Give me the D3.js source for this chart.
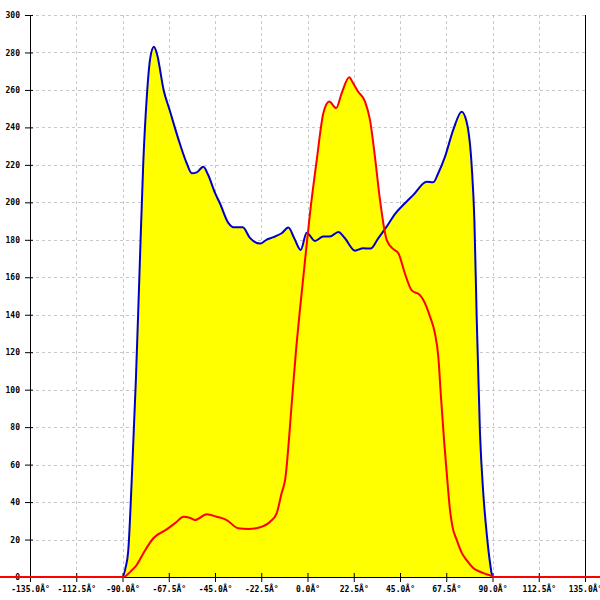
<!DOCTYPE html>
<html><head><meta charset="utf-8">
<script src="https://cdn.jsdelivr.net/npm/d3@7"></script>
<style>html,body{margin:0;padding:0;background:#fff;} svg{display:block;}</style>
</head><body>
<svg id="chart" width="600" height="600"></svg>
<script>
// Data
const blueX = [-150, -90, -88.5, -87.2, -85.5, -83.5, -81.8, -79.9, -78.2, -76.5, -74.7, -73.2, -70, -67, -62, -58.8, -56.3, -53.9, -50.7, -48.3, -45, -42.6, -38.5, -36, -31.5, -28, -23, -20, -16.6, -12.6, -9.3, -6.5, -3.3, -0.4, 3.6, 7.7, 10.9, 15, 18.2, 23.1, 27.1, 30.7, 34.4, 38.5, 42.6, 47.4, 51.5, 58, 61.2, 63.6, 66.9, 70.9, 75, 77.4, 79.9, 81.2, 82.3, 83.9, 85.5, 87.2, 89, 90, 150];
const blueY = [0, 0, 5, 14, 52, 105, 160, 221, 256, 277, 283, 279, 260, 249, 231, 221, 215.5, 216, 219, 214.6, 205, 199.5, 189, 186.7, 186.7, 181, 178, 180, 181.4, 183.5, 186.5, 181, 174.6, 183.8, 179.4, 181.7, 181.7, 184.2, 180.8, 174.2, 175.5, 175.3, 180.8, 187, 193.8, 199.5, 204, 211, 210.7, 215.5, 224.4, 238.7, 248.4, 243, 219, 190, 139, 77, 45, 23, 6, 0, 0];

const redX = [-150, -89.6, -86, -83.1, -79.9, -75, -68.5, -63.6, -60.4, -57, -54.7, -49, -44.2, -39.3, -33.7, -28.8, -23.9, -18.2, -15, -12.6, -10.9, -7.5, -5.5, -3.6, -1.2, 1.2, 4.5, 7.7, 10.6, 13.9, 16.6, 20.3, 22, 24.7, 28, 30.4, 32.8, 35.3, 38.5, 41.8, 44.2, 47.4, 50.7, 54.7, 56.3, 59.6, 62, 63.6, 65, 66.5, 68, 69.3, 70.5, 72.6, 75, 77.4, 80.5, 83.9, 87, 89.6, 90, 150];
const redY = [0, 0, 3, 6.4, 12.6, 20.7, 25.4, 29.5, 32.2, 31.5, 30.4, 33.5, 32.2, 30.4, 26, 25.6, 26.3, 29.5, 34, 44.7, 51.8, 95, 122, 143.5, 169, 194, 222.6, 247.5, 253.8, 250.3, 258.2, 266.8, 264, 259, 253.8, 244, 224.4, 201, 180, 175, 172.8, 162, 153, 150.5, 148, 139, 130, 118, 95, 72, 52, 36, 27, 19.8, 13, 9, 5, 2.8, 1.5, 0.5, 0, 0];

const xTicks = [-135, -112.5, -90, -67.5, -45, -22.5, 0, 22.5, 45, 67.5, 90, 112.5, 135];
const yTicks = [0, 20, 40, 60, 80, 100, 120, 140, 160, 180, 200, 220, 240, 260, 280, 300];

const svg = d3.select("#chart");
const x = d3.scaleLinear().domain([-135, 135]).range([30, 585]);
const y = d3.scaleLinear().domain([0, 300]).range([577, 15]);
const font = "'DejaVu Sans Mono', monospace";

// grid
const grid = svg.append("g").attr("stroke", "#c8c8c8").attr("stroke-dasharray", "3,3").attr("stroke-width", 1);
yTicks.filter(d => d > 0).forEach(d => {
  grid.append("line").attr("x1", x(-135)).attr("x2", x(135)).attr("y1", Math.round(y(d)) + 0.5).attr("y2", Math.round(y(d)) + 0.5);
});
xTicks.filter(d => d > -135 && d < 135).forEach(d => {
  grid.append("line").attr("y1", y(300)).attr("y2", y(0)).attr("x1", Math.round(x(d)) + 0.5).attr("x2", Math.round(x(d)) + 0.5);
});

// areas
const blue = blueX.map((v, i) => [v, blueY[i]]);
const red = redX.map((v, i) => [v, redY[i]]);
const area = d3.area().x(d => x(d[0])).y0(y(0)).y1(d => y(d[1])).curve(d3.curveMonotoneX);
const line = d3.line().x(d => x(d[0])).y(d => y(d[1])).curve(d3.curveMonotoneX);
svg.append("path").attr("d", area(blue)).attr("fill", "#ffff00");
svg.append("path").attr("d", area(red)).attr("fill", "#ffff00");

// axes
const xAxis = d3.axisBottom(x).tickValues(xTicks).tickSizeInner(5).tickSizeOuter(0).tickPadding(4)
  .tickFormat(d => d3.format(".1f")(d) .replace("\u2212", "-") + "\u00C2\u00B0");
const gx = svg.append("g").attr("transform", `translate(0,${y(0)})`).call(xAxis);
gx.selectAll(".tick line").attr("y1", -4);
const yAxis = d3.axisLeft(y).tickValues(yTicks).tickSizeInner(5).tickSizeOuter(0).tickPadding(5).tickFormat(d3.format("d"));
const gy = svg.append("g").attr("transform", `translate(${x(-135)},0)`).call(yAxis);
gy.selectAll(".tick line").attr("x1", 3);
[gx, gy].forEach(g => {
  g.selectAll("text").attr("font-family", font).attr("font-size", 8).attr("font-weight", "bold").attr("fill", "#000");
  g.selectAll("line,path").attr("stroke", "#000");
});
gx.select(".domain").attr("stroke-width", 1);
// right border
svg.append("line").attr("x1", Math.round(x(135)) + 0.5).attr("x2", Math.round(x(135)) + 0.5)
  .attr("y1", y(300)).attr("y2", y(0)).attr("stroke", "#000");

// lines
svg.append("path").attr("d", line(blue)).attr("fill", "none").attr("stroke", "#0000c8").attr("stroke-width", 2);
svg.append("path").attr("d", line(red)).attr("fill", "none").attr("stroke", "#ff0000").attr("stroke-width", 2);
</script>
</body></html>
